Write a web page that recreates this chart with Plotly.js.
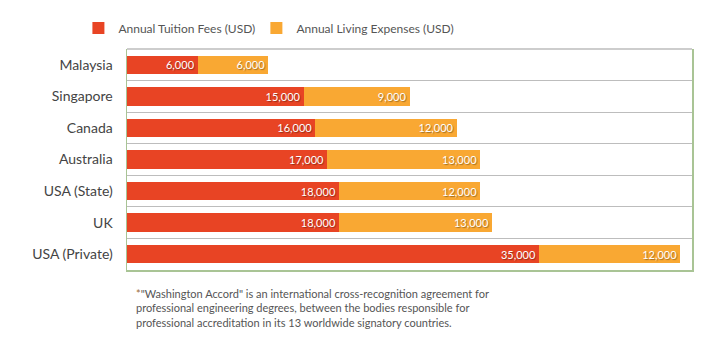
<!DOCTYPE html>
<html><head><meta charset="utf-8">
<script src="https://cdn.plot.ly/plotly-3.0.1.min.js"></script>
<style>html,body{margin:0;padding:0;background:#fff}#c{width:703px;height:361px}</style>
</head><body><div id="c"></div>
<script>
const countries = ["Malaysia","Singapore","Canada","Australia","USA (State)","UK","USA (Private)"];
const tuition = [6000,15000,16000,17000,18000,18000,35000];
const living = [6000,9000,12000,13000,12000,13000,12000];
const seriesNames = ["Annual Tuition Fees (USD)","Annual Living Expenses (USD)"];
const footnote = '<span style="color:#9a6a3a">*</span>"Washington Accord" is an international cross-recognition agreement for<br>professional engineering degrees, between the bodies responsible for<br>professional accreditation in its 13 worldwide signatory countries.';

const font = "Lato, 'Open Sans', sans-serif";
const common = {type:'bar', orientation:'h', y:countries, width:0.58,
  texttemplate:'%{x:,}', textposition:'inside', insidetextanchor:'end',
  textfont:{family:font, size:11, color:'#fff', shadow:'1px 1px 1px rgba(0,0,0,0.35)'},
  constraintext:'none', hoverinfo:'skip'};
const data = [
  Object.assign({}, common, {x:tuition, name:seriesNames[0], marker:{color:'#E84424'}, legend:'legend'}),
  Object.assign({}, common, {x:living, name:seriesNames[1], marker:{color:'#F9A833'}, legend:'legend2'})
];
const legendBase = {orientation:'h', xanchor:'left', y:1.095, yanchor:'middle',
    font:{family:font, size:12, color:'#555'}, bgcolor:'rgba(0,0,0,0)'};
const layout = {
  width:703, height:361, margin:{l:127, r:11, t:49, b:91, autoexpand:false},
  barmode:'stack', bargap:0.42, plot_bgcolor:'#fff', paper_bgcolor:'#fff',
  font:{family:font, color:'#555'},
  xaxis:{range:[0,48000], showgrid:false, zeroline:false, showticklabels:false, ticks:'',
    showline:true, linecolor:'#a9c495', linewidth:1.5},
  yaxis:{autorange:'reversed', tickson:'boundaries', showgrid:true, gridcolor:'#bdbdbd', gridwidth:1,
    ticks:'', showline:true, linecolor:'#a9c495', linewidth:1.5, mirror:true,
    tickfont:{family:font, size:14, color:'#444'}, ticklabelstandoff:10},
  showlegend:true,
  legend:Object.assign({}, legendBase, {x:-0.086}),
  legend2:Object.assign({}, legendBase, {x:0.229}),
  shapes:[{type:'line', xref:'paper', yref:'paper', x0:0, x1:1, y0:1, y1:1, line:{color:'#bdbdbd', width:1.5}}],
  annotations:[{xref:'paper', yref:'paper', x:0.012, y:-0.066, xanchor:'left', yanchor:'top',
    align:'left', showarrow:false, text:footnote, font:{family:font, size:11, color:'#555'}}]
};
Plotly.newPlot('c', data, layout, {displayModeBar:false, staticPlot:true});
</script></body></html>
